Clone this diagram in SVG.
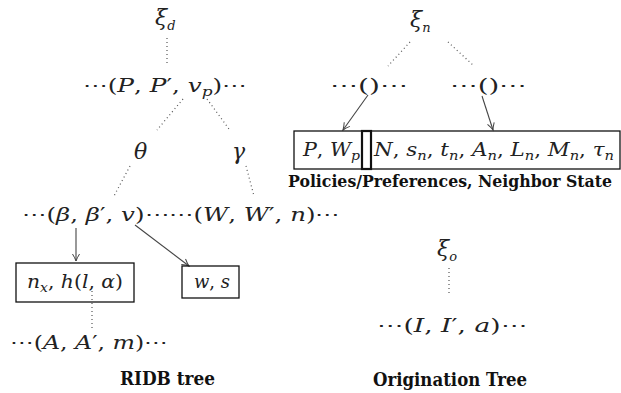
<svg xmlns="http://www.w3.org/2000/svg" width="621" height="393" viewBox="0 0 621 393">
<style>
.m{font-family:'DejaVu Serif',serif;font-style:italic;font-size:19px;fill:#222}
.u{font-style:normal}
.s{font-size:13px}
.g{font-family:'DejaVu Serif',serif;font-style:italic;font-size:22px}
.b{font-family:'DejaVu Serif',serif;font-weight:bold;font-size:18px;fill:#111}
.bl{font-size:16px}
.dot{stroke:#555;stroke-width:1.2;stroke-dasharray:1 3;fill:none}
.arr{stroke:#444;stroke-width:1.1;fill:none;marker-end:url(#ah)}
.box{fill:none;stroke:#111;stroke-width:1.3}
</style>
<defs>
<marker id="ah" markerWidth="10" markerHeight="10" refX="8" refY="4" orient="auto" markerUnits="userSpaceOnUse">
<path d="M1,0.5 Q5,3 8,4 Q5,5 1,7.5" fill="none" stroke="#444" stroke-width="1"/>
</marker>
</defs>
<rect width="621" height="393" fill="#fff"/>

<g id="connectors">
<line class="dot" x1="167" y1="38" x2="167" y2="64"/>
<line class="dot" x1="183" y1="99" x2="157" y2="130"/>
<line class="dot" x1="207" y1="99" x2="229" y2="129"/>
<line class="dot" x1="130" y1="166" x2="114" y2="196"/>
<line class="dot" x1="246" y1="166" x2="254" y2="196"/>
<line class="arr" x1="76" y1="228" x2="76" y2="261"/>
<line class="arr" x1="135" y1="225" x2="189" y2="266"/>
<line class="dot" x1="92" y1="291" x2="92" y2="329"/>
<line class="dot" x1="410" y1="42" x2="388" y2="66"/>
<line class="dot" x1="448" y1="42" x2="474" y2="66"/>
<line class="arr" x1="368" y1="95" x2="343" y2="130"/>
<line class="arr" x1="482" y1="96" x2="493" y2="130"/>
<line class="dot" x1="449" y1="268" x2="449" y2="295"/>
</g>

<g id="xi_d"><text class="m" x="155" y="25"><tspan class="g">ξ</tspan><tspan class="s" dy="5">d</tspan></text></g>
<g id="PPvp"><text class="m" x="83" y="92" textLength="164" lengthAdjust="spacingAndGlyphs"><tspan class="u">⋯(</tspan>P<tspan class="u">, </tspan>P<tspan class="u">′, </tspan>v<tspan class="s" dy="4">p</tspan><tspan class="u" dy="-4">)⋯</tspan></text></g>
<g id="theta"><text class="m" x="134" y="159"><tspan class="g">θ</tspan></text></g>
<g id="gamma"><text class="m" x="232" y="159"><tspan class="g">γ</tspan></text></g>
<g id="bbv"><text class="m" x="22" y="221" textLength="318" lengthAdjust="spacingAndGlyphs"><tspan class="u">⋯(</tspan>β<tspan class="u">, </tspan>β<tspan class="u">′, </tspan>v<tspan class="u">)⋯⋯(</tspan>W<tspan class="u">, </tspan>W<tspan class="u">′, </tspan>n<tspan class="u">)⋯</tspan></text></g>
<g id="nxh"><rect class="box" x="16" y="263" width="118" height="39"/><text class="m" x="27" y="288" textLength="96" lengthAdjust="spacingAndGlyphs">n<tspan class="s" dy="4">x</tspan><tspan class="u" dy="-4">, </tspan>h<tspan class="u">(</tspan>l<tspan class="u">, </tspan>α<tspan class="u">)</tspan></text></g>
<g id="ws"><rect class="box" x="182" y="266" width="57" height="32"/><text class="m" x="194" y="288" textLength="36" lengthAdjust="spacingAndGlyphs">w<tspan class="u">, </tspan>s</text></g>
<g id="AAm"><text class="m" x="10" y="349" textLength="158" lengthAdjust="spacingAndGlyphs"><tspan class="u">⋯(</tspan>A<tspan class="u">, </tspan>A<tspan class="u">′, </tspan>m<tspan class="u">)⋯</tspan></text></g>
<g id="ridb"><text class="b" x="120" y="385" textLength="95" lengthAdjust="spacingAndGlyphs">RIDB tree</text></g>

<g id="xi_n"><text class="m" x="410" y="27"><tspan class="g">ξ</tspan><tspan class="s" dy="5">n</tspan></text></g>
<g id="empty1"><text class="m" x="330" y="92" textLength="78" lengthAdjust="spacingAndGlyphs"><tspan class="u">⋯()⋯</tspan></text></g>
<g id="empty2"><text class="m" x="450" y="92" textLength="77" lengthAdjust="spacingAndGlyphs"><tspan class="u">⋯()⋯</tspan></text></g>
<g id="state">
<rect class="box" x="294" y="131" width="68" height="38"/>
<rect class="box" x="362" y="131" width="9" height="38" style="stroke-width:2.2"/>
<rect class="box" x="371" y="131" width="249" height="38"/>
<text class="m" x="303" y="156" textLength="57" lengthAdjust="spacingAndGlyphs">P<tspan class="u">, </tspan>W<tspan class="s" dy="4">p</tspan></text>
<text class="m" x="374" y="156" textLength="240" lengthAdjust="spacingAndGlyphs">N<tspan class="u">, </tspan>s<tspan class="s" dy="4">n</tspan><tspan class="u" dy="-4">, </tspan>t<tspan class="s" dy="4">n</tspan><tspan class="u" dy="-4">, </tspan>A<tspan class="s" dy="4">n</tspan><tspan class="u" dy="-4">, </tspan>L<tspan class="s" dy="4">n</tspan><tspan class="u" dy="-4">, </tspan>M<tspan class="s" dy="4">n</tspan><tspan class="u" dy="-4">, </tspan>τ<tspan class="s" dy="4">n</tspan></text>
<text class="b bl" x="288" y="187" textLength="324" lengthAdjust="spacingAndGlyphs">Policies/Preferences, Neighbor State</text>
</g>

<g id="xi_o"><text class="m" x="437" y="256"><tspan class="g">ξ</tspan><tspan class="s" dy="5">o</tspan></text></g>
<g id="IIa"><text class="m" x="377" y="332" textLength="150" lengthAdjust="spacingAndGlyphs"><tspan class="u">⋯(</tspan>I<tspan class="u">, </tspan>I<tspan class="u">′, </tspan>a<tspan class="u">)⋯</tspan></text></g>
<g id="orig"><text class="b" x="373" y="386" textLength="154" lengthAdjust="spacingAndGlyphs">Origination Tree</text></g>
</svg>
